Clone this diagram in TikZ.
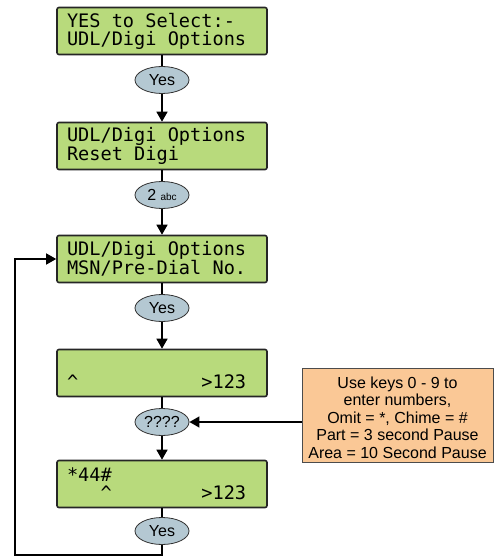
\documentclass[tikz,border=0pt]{standalone}
\usepackage{fontspec}
\setmainfont{Liberation Sans}
\newfontfamily\lcdfont{DejaVu Sans Mono}
\usetikzlibrary{shapes.geometric,arrows.meta}
\definecolor{lcdgreen}{RGB}{184,218,124}
\definecolor{keyblue}{RGB}{180,200,210}
\definecolor{noteorange}{RGB}{250,200,150}
\newcommand{\lcdst}{\rule[-2pt]{0pt}{16pt}}
\newcommand{\lsp}{\hphantom{0}}
\newcommand{\lcdsetup}{\lcdfont\fontsize{18.6}{18}\selectfont\spaceskip=\fontcharwd\font`0\relax\xspaceskip=\spaceskip}
\begin{document}
\begin{tikzpicture}[x=1pt,y=-1pt,
 lcd/.style={draw=black!85, line width=1.6pt, fill=lcdgreen, rounded corners=2pt, minimum width=210pt, minimum height=47pt, text width=190pt, inner xsep=10pt, inner ysep=0pt, align=left, font=\lcdsetup},
 key/.style={ellipse, draw=black!80, line width=0.8pt, fill=keyblue, minimum width=54pt, minimum height=27pt, inner sep=0pt, font=\fontsize{16}{18}\selectfont},
 note/.style={draw=black!70, line width=0.8pt, fill=noteorange, minimum width=191pt, minimum height=94pt, inner sep=2pt, align=center, font=\fontsize{16}{17.5}\selectfont},
 link/.style={line width=1.4pt, draw=black},
 arr/.style={link, -{Triangle[length=10pt,width=11pt]}}
]
\useasboundingbox (0,0) rectangle (501,556);

\node[lcd] (b1) at (162,31) {\lcdst YES\lsp to\lsp Select:-\\\lcdst UDL/Digi\lsp Options};
\node[key] (k1) at (162,80) {Yes};
\node[lcd] (b2) at (162,146) {\lcdst UDL/Digi\lsp Options\\\lcdst Reset\lsp Digi};
\node[key] (k2) at (162,195) {2 {\fontsize{10}{10}\selectfont abc}};
\node[lcd] (b3) at (162,259) {\lcdst UDL/Digi\lsp Options\\\lcdst MSN/Pre-Dial\lsp No.};
\node[key] (k3) at (162,308) {Yes};
\node[lcd] (b4) at (162,373) {\lcdst\\\lcdst\textasciicircum\lsp\lsp\lsp\lsp\lsp\lsp\lsp\lsp\lsp\lsp\lsp>123};
\node[key] (k4) at (162,422) {????};
\node[lcd] (b5) at (162,484) {\lcdst*44\#\\\lcdst\lsp\lsp\lsp\textasciicircum\lsp\lsp\lsp\lsp\lsp\lsp\lsp\lsp>123};
\node[key] (k5) at (162,531) {Yes};
\node[note] (n) at (397.5,415) {\rule{0pt}{17pt}Use keys 0 - 9 to\\enter numbers,\\Omit = *, Chime = \#\\Part = 3 second Pause\\Area = 10 Second Pause};

\coordinate (c2) at (15,555);

\draw[link] (b1) -- (k1);
\draw[arr] (k1) -- (b2);
\draw[link] (b2) -- (k2);
\draw[arr] (k2) -- (b3);
\draw[link] (b3) -- (k3);
\draw[arr] (k3) -- (b4);
\draw[link] (b4) -- (k4);
\draw[arr] (k4) -- (b5);
\draw[link] (b5) -- (k5);
\draw[arr] (k5.south) |- (c2) |- (b3.west);
\draw[arr] (n.west |- k4) -- (k4.east);
\end{tikzpicture}
\end{document}
